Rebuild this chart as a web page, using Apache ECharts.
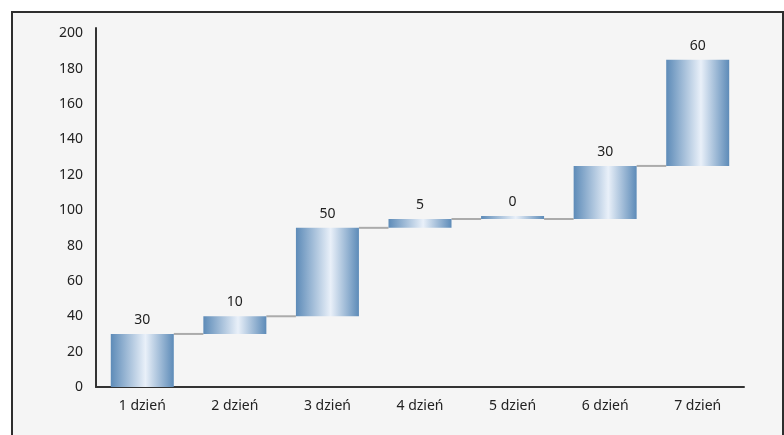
<!DOCTYPE html>
<html>
<head>
<meta charset="utf-8">
<script src="https://cdn.jsdelivr.net/npm/echarts@6/dist/echarts.min.js"></script>
<style>
	html, body { margin: 0; padding: 0; background: #fff; }
	#chart { width: 784px; height: 435px; }
</style>
</head>
<body>
<div id="chart"></div>
<script>
// dni i przyrosty
var days = ['1 dzień', '2 dzień', '3 dzień', '4 dzień', '5 dzień', '6 dzień', '7 dzień']
var gains = [30, 10, 50, 5, 0, 30, 60]
var yTicks = [0, 20, 40, 60, 80, 100, 120, 140, 160, 180, 200]

// podstawa (niewidoczna) i poziom po każdym dniu
var base = []
var level = []
var sum = 0
for (var i in gains) {
	base.push(sum)
	sum += gains[i]
	level.push(sum)
}
// odcinki łączące: [indeks dnia, poziom]
var links = []
for (var j = 0; j < level.length - 1; j++) {
	links.push([j, level[j]])
}

var chart = echarts.init(document.getElementById('chart'));
var txt = '"Noto Sans", "Open Sans", sans-serif'
var barW = 63
var barColor = new echarts.graphic.LinearGradient(0, 0, 1, 0, [
	{ offset: 0, color: '#5d8bb8' },
	{ offset: 0.55, color: '#e9f0f9' },
	{ offset: 1, color: '#5d8bb8' }
])

var option = {
	animation: false,
	graphic: [{
		type: 'rect',
		z: -10,
		silent: true,
		shape: { x: 12, y: 12, width: 771, height: 440 },
		style: { fill: '#f5f5f5', stroke: '#2e2e2e', lineWidth: 2 }
	}],
	grid: {
		left: 96,
		right: 40,
		top: 28,
		bottom: 48
	},
	xAxis: {
		type: 'category',
		data: days,
		axisTick: { show: false },
		axisLine: {
			lineStyle: { color: '#333', width: 2 }
		},
		axisLabel: {
			color: '#222',
			fontSize: 14,
			fontFamily: txt,
			margin: 12
		}
	},
	yAxis: {
		type: 'value',
		min: 0,
		max: 203,
		interval: 20,
		splitLine: { show: false },
		axisTick: { show: false },
		axisLine: {
			show: true,
			lineStyle: { color: '#333', width: 2 }
		},
		axisLabel: {
			color: '#222',
			fontSize: 14,
			fontFamily: txt,
			margin: 13,
			showMaxLabel: false,
			formatter: function (v) {
				return yTicks.indexOf(v) >= 0 ? v : ''
			}
		}
	},
	series: [
		{
			// linie łączące słupki
			type: 'custom',
			data: links,
			silent: true,
			z: 1,
			renderItem: function (params, api) {
				var a = api.coord([api.value(0), api.value(1)])
				var b = api.coord([api.value(0) + 1, api.value(1)])
				return {
					type: 'line',
					shape: { x1: a[0] + barW / 2, y1: a[1], x2: b[0] - barW / 2, y2: b[1] },
					style: { stroke: '#ababab', lineWidth: 2 }
				}
			}
		},
		{
			type: 'bar',
			stack: 'w',
			data: base,
			barWidth: barW,
			silent: true,
			z: 2,
			itemStyle: { color: 'transparent' }
		},
		{
			type: 'bar',
			stack: 'w',
			data: gains,
			barWidth: barW,
			barMinHeight: 3,
			z: 2,
			itemStyle: { color: barColor },
			label: {
				show: true,
				position: 'top',
				distance: 7,
				color: '#222',
				fontSize: 14,
				fontFamily: txt
			}
		}
	]
};
chart.setOption(option);
</script>
</body>
</html>
